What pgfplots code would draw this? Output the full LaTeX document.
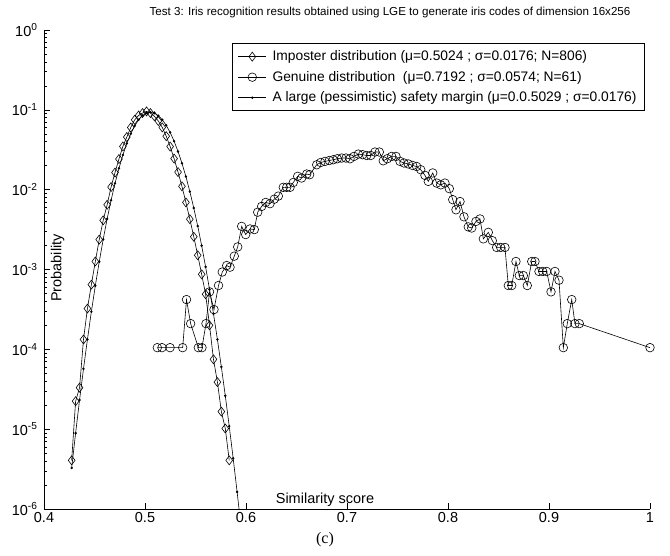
\documentclass[border=0pt]{standalone}
\usepackage{fontspec}
\setmainfont{Liberation Sans}
\newfontfamily\timesfont{Liberation Serif}
\usepackage{pgfplots}
\pgfplotsset{compat=1.18}
\begin{document}
\begin{tikzpicture}
\path[use as bounding box] (-44pt,-46pt) rectangle (626pt,509pt);
\begin{semilogyaxis}[
  scale only axis, width=606pt, height=479pt,
  at={(0pt,0pt)}, anchor=south west,
  xmin=0.4, xmax=1, ymin=1e-6, ymax=1,
  axis lines*=left,
  axis line style={line width=0.6pt},
  tick align=inside,
  major tick length=6pt, minor tick length=3pt,
  every tick/.style={line width=0.5pt, black},
  xtick={0.4,0.5,0.6,0.7,0.8,0.9,1},
  xticklabels={0.4,0.5,0.6,0.7,0.8,0.9,1},
  ytick={1e-6,1e-5,1e-4,1e-3,1e-2,1e-1,1},
  yticklabels={10\textsuperscript{-6},10\textsuperscript{-5},10\textsuperscript{-4},10\textsuperscript{-3},10\textsuperscript{-2},10\textsuperscript{-1},10\textsuperscript{0}},
  tick label style={font=\fontsize{14.5}{16}\selectfont},
  yticklabel style={xshift=-3pt},
  xlabel={Similarity score},
  xlabel style={at={(rel axis cs:0.4637,0.019)}, anchor=center, font=\fontsize{14.5}{16}\selectfont},
  ylabel={Probability},
  ylabel style={at={(rel axis cs:0.0225,0.503)}, anchor=center, font=\fontsize{14.5}{16}\selectfont},
  title={Test 3: Iris recognition results obtained using LGE to generate iris codes of dimension 16x256},
  title style={at={(rel axis cs:0.571,1.025)}, anchor=center, font=\fontsize{11.6}{13}\selectfont},
  clip mode=individual,
  every axis plot/.append style={line width=0.6pt, black},
  legend style={at={(rel axis cs:0.9917,0.9729)}, anchor=north east,
    font=\fontsize{13.8}{16}\selectfont, draw=black, line width=0.9pt, fill=white,
    cells={anchor=west}, row sep=5pt, column sep=4pt, inner xsep=6pt, inner ysep=5.5pt},
  legend image code/.code={\draw[mark repeat=2,mark phase=2,#1] plot coordinates {(0pt,0pt) (14pt,0pt) (28pt,0pt)};},
]
\addplot[mark=diamond, mark size=4.5pt, mark options={solid, line width=0.6pt}] coordinates {
(0.4274,4.07e-6) (0.4313,2.24e-5) (0.4352,3.31e-5) (0.4391,1.33e-4) (0.4430,3.24e-4)
(0.4469,6.46e-4) (0.4508,1.26e-3) (0.4547,2.37e-3) (0.4586,4.13e-3) (0.4625,6.46e-3)
(0.4664,1.08e-2) (0.4703,1.64e-2) (0.4742,2.42e-2) (0.4781,3.48e-2) (0.4820,4.56e-2)
(0.4859,6.01e-2) (0.4898,7.50e-2) (0.4937,8.51e-2) (0.4976,9.12e-2) (0.5015,9.55e-2)
(0.5054,9.12e-2) (0.5093,8.32e-2) (0.5132,7.24e-2) (0.5171,6.03e-2) (0.5210,4.68e-2)
(0.5249,3.47e-2) (0.5288,2.45e-2) (0.5327,1.66e-2) (0.5366,1.10e-2) (0.5405,6.92e-3)
(0.5444,4.27e-3) (0.5483,2.57e-3) (0.5522,1.51e-3) (0.5561,8.71e-4) (0.5600,4.90e-4)
(0.5639,2.00e-4) (0.5678,7.50e-5) (0.5717,3.89e-5) (0.5756,1.66e-5) (0.5795,1.02e-5)
(0.5834,4.07e-6)
};
\addlegendentry{Imposter distribution (μ=0.5024 ; σ=0.0176; N=806)}
\addplot[mark=o, mark size=4.3pt, mark options={solid, line width=0.6pt}] coordinates {
(0.5122,1.05e-4) (0.5168,1.05e-4) (0.5248,1.05e-4) (0.5373,1.05e-4) (0.5411,4.20e-4)
(0.5452,2.10e-4) (0.5528,1.05e-4) (0.5564,1.05e-4) (0.5604,2.10e-4) (0.5639,5.25e-4)
(0.5683,3.15e-4) (0.5728,6.30e-4) (0.5765,9.30e-4) (0.5809,1.12e-3) (0.5842,1.07e-3)
(0.5884,1.47e-3) (0.5918,1.92e-3) (0.5957,3.47e-3) (0.5997,2.74e-3) (0.6040,3.22e-3)
(0.6082,3.16e-3) (0.6116,5.22e-3) (0.6155,6.17e-3) (0.6195,6.92e-3) (0.6238,6.68e-3)
(0.6280,7.60e-3) (0.6320,8.30e-3) (0.6369,1.07e-2) (0.6403,1.07e-2) (0.6436,1.07e-2)
(0.6468,1.23e-2) (0.6512,1.47e-2) (0.6551,1.40e-2) (0.6601,1.57e-2) (0.6630,1.54e-2)
(0.6700,2.05e-2) (0.6740,2.19e-2) (0.6782,2.26e-2) (0.6825,2.32e-2) (0.6864,2.37e-2)
(0.6904,2.44e-2) (0.6948,2.49e-2) (0.6990,2.49e-2) (0.7030,2.44e-2) (0.7069,2.61e-2)
(0.7112,2.79e-2) (0.7155,2.74e-2) (0.7195,2.68e-2) (0.7235,2.68e-2) (0.7277,2.96e-2)
(0.7320,2.96e-2) (0.7359,2.30e-2) (0.7399,2.44e-2) (0.7443,2.61e-2) (0.7485,2.61e-2)
(0.7525,2.26e-2) (0.7564,2.16e-2) (0.7607,2.10e-2) (0.7650,2.01e-2) (0.7690,1.95e-2)
(0.7730,1.78e-2) (0.7772,1.51e-2) (0.7805,1.27e-2) (0.7849,1.62e-2) (0.7888,1.21e-2)
(0.7928,1.15e-2) (0.7970,1.21e-2) (0.8013,1.03e-2) (0.8047,7.50e-3) (0.8079,5.60e-3)
(0.8119,7.10e-3) (0.8158,4.57e-3) (0.8201,3.42e-3) (0.8235,3.31e-3) (0.8277,4.00e-3)
(0.8317,4.30e-3) (0.8350,2.42e-3) (0.8399,2.92e-3) (0.8439,2.30e-3) (0.8482,1.89e-3)
(0.8522,1.89e-3) (0.8564,1.89e-3) (0.8597,6.30e-4) (0.8631,6.30e-4) (0.8673,1.26e-3)
(0.8706,8.40e-4) (0.8746,8.40e-4) (0.8785,6.30e-4) (0.8829,1.26e-3) (0.8861,1.26e-3)
(0.8901,9.45e-4) (0.8938,9.45e-4) (0.8977,9.45e-4) (0.9020,5.25e-4) (0.9059,9.45e-4)
(0.9099,7.35e-4) (0.9142,1.05e-4) (0.9181,2.10e-4) (0.9225,4.20e-4) (0.9257,2.10e-4)
(0.9300,2.10e-4) (1.0000,1.05e-4)
};
\addlegendentry{Genuine distribution\ \ (μ=0.7192 ; σ=0.0574; N=61)}
\addplot[mark=*, mark size=0.9pt, mark options={solid}] coordinates {
(0.4274,3.27e-6) (0.4313,8.93e-6) (0.4352,2.32e-5) (0.4391,5.70e-5) (0.4430,1.33e-4)
(0.4469,2.96e-4) (0.4508,6.25e-4) (0.4547,1.25e-3) (0.4586,2.38e-3) (0.4625,4.30e-3)
(0.4664,7.36e-3) (0.4703,1.20e-2) (0.4742,1.85e-2) (0.4781,2.72e-2) (0.4820,3.79e-2)
(0.4859,5.01e-2) (0.4898,6.30e-2) (0.4937,7.51e-2) (0.4976,8.50e-2) (0.5015,9.14e-2)
(0.5054,9.33e-2) (0.5093,9.08e-2) (0.5132,8.45e-2) (0.5171,7.52e-2) (0.5210,6.40e-2)
(0.5249,5.21e-2) (0.5288,4.05e-2) (0.5327,3.01e-2) (0.5366,2.14e-2) (0.5405,1.46e-2)
(0.5444,9.47e-3) (0.5483,5.89e-3) (0.5522,3.50e-3) (0.5561,1.99e-3) (0.5600,1.08e-3)
(0.5639,5.62e-4) (0.5678,2.79e-4) (0.5717,1.33e-4) (0.5756,6.03e-5) (0.5795,2.62e-5)
(0.5834,1.09e-5) (0.5873,4.32e-6) (0.5912,1.64e-6) (0.5951,5.94e-7)
};
\addlegendentry{A large (pessimistic) safety margin (μ=0.0.5029 ; σ=0.0176)}
\end{semilogyaxis}
\node[font=\timesfont\fontsize{16}{18}\selectfont] at (281pt,-31pt) {(c)};
\end{tikzpicture}
\end{document}
